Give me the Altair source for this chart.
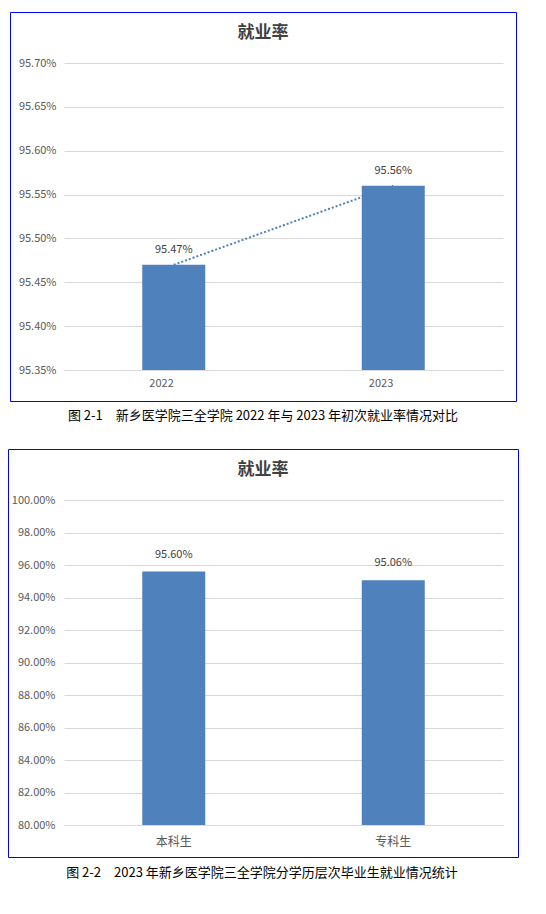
import altair as alt
import pandas as pd

FONT = "Noto Sans CJK SC"
BAR_COLOR = "#4F81BD"

chart_title = "就业率"

years = ["2022", "2023"]
rate_by_year = [0.9547, 0.9556]
ticks_year = [0.9535, 0.9540, 0.9545, 0.9550, 0.9555, 0.9560, 0.9565, 0.9570]
caption_year = "图 2-1\u3000新乡医学院三全学院 2022 年与 2023 年初次就业率情况对比"

levels = ["本科生", "专科生"]
rate_by_level = [0.9560, 0.9506]
ticks_level = [0.80, 0.82, 0.84, 0.86, 0.88, 0.90, 0.92, 0.94, 0.96, 0.98, 1.00]
caption_level = "图 2-2\u30002023 年新乡医学院三全学院分学历层次毕业生就业情况统计"


def panel(cats, vals, ticks, w, h, box, title_x, caption, cap_x, cap_y,
          label_dy, x_font=11, x_pad=8, y_pad=8, trend=False):
    df = pd.DataFrame({"cat": cats, "rate": vals})
    one = pd.DataFrame({"k": [0]})
    lo, hi = ticks[0], ticks[-1]

    x = alt.X("cat:N", sort=cats, title=None,
              scale=alt.Scale(paddingInner=0, paddingOuter=0),
              axis=alt.Axis(labelAngle=0, labelFontSize=x_font, labelPadding=x_pad,
                            ticks=False, domain=True, domainColor="#d9d9d9",
                            grid=False))
    y = alt.Y("rate:Q", title=None,
              scale=alt.Scale(domain=[lo, hi], zero=False, nice=False),
              axis=alt.Axis(values=ticks, tickCount=len(ticks), format=".2%",
                            ticks=False, domain=False, grid=True,
                            gridColor="#d9d9d9", labelPadding=y_pad,
                            labelFontSize=11, labelOverlap=False))

    bars = alt.Chart(df).mark_bar(size=63, color=BAR_COLOR).encode(
        x=x, y=y, y2=alt.datum(lo)
    )
    labels = alt.Chart(df).mark_text(
        dy=label_dy, font=FONT, fontSize=11, color="#404040"
    ).encode(
        x=alt.X("cat:N", sort=cats),
        y="rate:Q",
        text=alt.Text("rate:Q", format=".2%"),
    )

    border = alt.Chart(one).mark_rect(
        fillOpacity=0, stroke="#0000FF", strokeOpacity=1, strokeWidth=1
    ).encode(
        x=alt.value(box[0]), x2=alt.value(box[1]),
        y=alt.value(box[2]), y2=alt.value(box[3]),
    )
    head = alt.Chart(one).mark_text(
        text=chart_title, font=FONT, fontSize=17, fontWeight="bold", color="#404040"
    ).encode(x=alt.value(title_x), y=alt.value(-30))
    foot = alt.Chart(one).mark_text(
        text=caption, font=FONT, fontSize=13, color="#000000"
    ).encode(x=alt.value(cap_x), y=alt.value(cap_y))

    layers = [border, head, foot]
    if trend:
        line = alt.Chart(df).mark_line(
            color=BAR_COLOR, strokeWidth=2, strokeDash=[2, 2]
        ).encode(x=alt.X("cat:N", sort=cats), y="rate:Q")
        layers.append(line)
    layers += [bars, labels]
    return alt.layer(*layers).properties(width=w, height=h)


top = panel(years, rate_by_year, ticks_year, 439, 307,
            box=(-53.5, 452.5, -50.5, 338.5), title_x=199,
            caption=caption_year, cap_x=199, cap_y=353,
            label_dy=-15, x_font=11, x_pad=13, y_pad=8, trend=True)

bottom = panel(levels, rate_by_level, ticks_level, 439, 325,
               box=(-55.5, 454.5, -50.5, 357.5), title_x=199,
               caption=caption_level, cap_x=198, cap_y=373,
               label_dy=-17, x_font=12, x_pad=11, y_pad=9)

chart = alt.vconcat(top, bottom, spacing=26).properties(
    padding={"left": 0, "top": 4, "right": 0, "bottom": 0}
).configure_view(
    stroke=None
).configure_axis(
    labelFont=FONT, labelColor="#595959"
)

chart.save("out.html", embed_options={"renderer": "svg", "actions": False})
